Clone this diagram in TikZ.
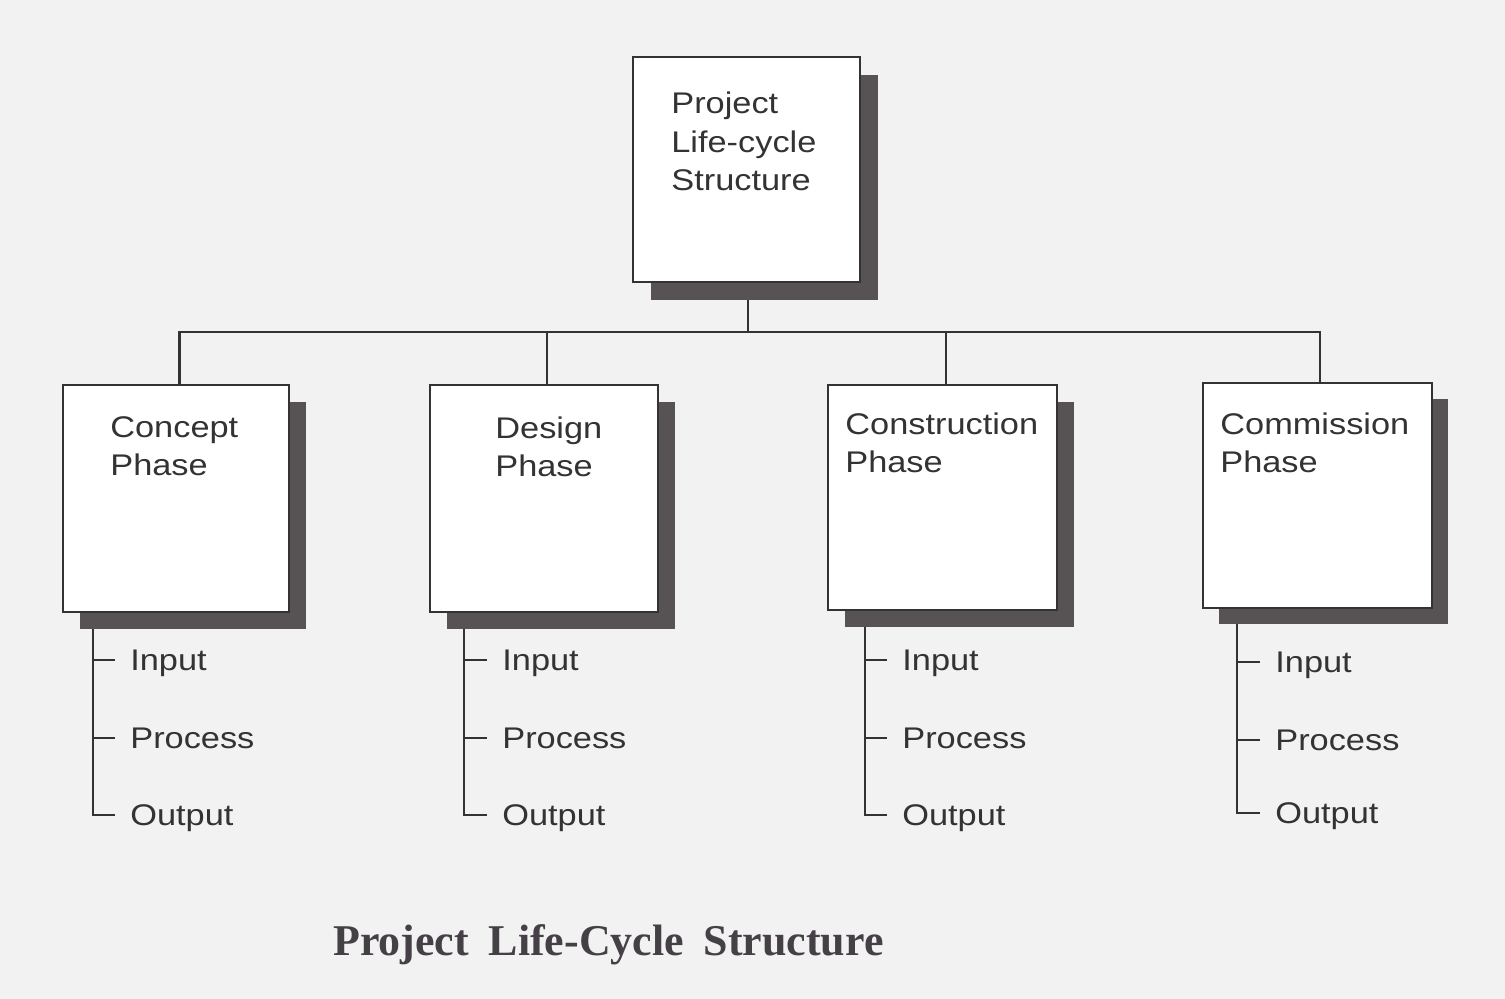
\documentclass[tikz,border=0pt]{standalone}
\usepackage{fontspec}
\setmainfont{Liberation Sans}
\newfontfamily\boxfont{Liberation Sans}[FakeStretch=1.15]
\newfontfamily\capfont{Liberation Serif}
\usetikzlibrary{calc}
\definecolor{ink}{HTML}{333333}
\definecolor{shade}{HTML}{575254}
\definecolor{paper}{HTML}{F2F2F2}
\definecolor{capink}{HTML}{454045}
\begin{document}
\begin{tikzpicture}[x=0.02cm,y=-0.02cm,
  box/.style={draw=ink, fill=white, line width=1.2pt, inner sep=0, outer sep=0},
  ttl/.style={font=\boxfont\fontsize{17}{22}\selectfont, align=left, inner sep=0, text=ink, anchor=base west},
  item/.style={font=\boxfont\fontsize{17}{22}\selectfont, inner sep=0, text=ink, anchor=west, text height=12pt, text depth=0pt},
  conn/.style={draw=ink, line width=1.4pt},
  shadowfill/.style={fill=shade}]
\useasboundingbox[fill=paper] (0,0) rectangle (1505,999);

% box nodes
\node[box, minimum width=4.54cm, minimum height=4.50cm] (top) at (746.5,169.5) {};
\node[box, minimum width=4.52cm, minimum height=4.54cm] (concept) at (176,498.5) {};
\node[box, minimum width=4.56cm, minimum height=4.54cm] (design) at (544,498.5) {};
\node[box, minimum width=4.58cm, minimum height=4.50cm] (construction) at (942.5,497.5) {};
\node[box, minimum width=4.58cm, minimum height=4.50cm] (commission) at (1317.5,495.5) {};

% tree connectors
\coordinate (j) at (748,332);
\coordinate (cN) at ([xshift=0.07cm]concept.north);
\coordinate (dN) at ([xshift=0.06cm]design.north);
\coordinate (kN) at ([xshift=0.07cm]construction.north);
\coordinate (mN) at ([xshift=0.05cm]commission.north);
\draw[conn] ([xshift=0.03cm]top.south) -- ([xshift=0.03cm]top.south |- j);
\draw[conn] (cN) -- (cN |- j) -- (mN |- j) -- (mN);
\draw[conn] (dN) -- (dN |- j);
\draw[conn] (kN) -- (kN |- j);

% list items
\node[item] (cIn) at (130,660) {Input};
\node[item] (cPr) at (130,738) {Process};
\node[item] (cOut) at (130,815) {Output};
\node[item] (dIn) at (502,660) {Input};
\node[item] (dPr) at (502,738) {Process};
\node[item] (dOut) at (502,815) {Output};
\node[item] (kIn) at (902,660) {Input};
\node[item] (kPr) at (902,738) {Process};
\node[item] (kOut) at (902,815) {Output};
\node[item] (mIn) at (1275,662) {Input};
\node[item] (mPr) at (1275,740) {Process};
\node[item] (mOut) at (1275,813) {Output};

\coordinate (cL) at (93,612);
\coordinate (dL) at (464,612);
\coordinate (kL) at (865,610);
\coordinate (mL) at (1237,608);
\foreach \l/\a/\b/\c in {cL/cIn/cPr/cOut, dL/dIn/dPr/dOut, kL/kIn/kPr/kOut, mL/mIn/mPr/mOut}{
  \draw[conn] (\l) |- ([xshift=-0.3cm]\c.west);
  \draw[conn] (\l |- \a.west) -- ([xshift=-0.3cm]\a.west);
  \draw[conn] (\l |- \b.west) -- ([xshift=-0.3cm]\b.west);
}

% shadows and boxes redrawn on top
\foreach \n/\o in {top/18, concept/17, design/17, construction/17, commission/16}{
  \fill[shadowfill] ($(\n.south west)+(\o,\o)$) rectangle ($(\n.north east)+(\o,\o)$);
  \draw[box] (\n.south west) rectangle (\n.north east);
}

% box titles (base anchor = baseline of the last line)
\node[ttl] (topT) at (671,191) {Project\\Life-cycle\\Structure};
\node[ttl] (conceptT) at (110,476) {Concept\\Phase};
\node[ttl] (designT) at (495,477) {Design\\Phase};
\node[ttl] (constructionT) at (845,473) {Construction\\Phase};
\node[ttl] (commissionT) at (1220,473) {Commission\\Phase};

% caption
\node[font=\capfont\bfseries\fontsize{25}{30}\selectfont, text=capink, inner sep=0, anchor=base west] (cap) at (333,955) {Project\hspace{0.45em}Life-Cycle\hspace{0.45em}Structure};
\end{tikzpicture}
\end{document}
